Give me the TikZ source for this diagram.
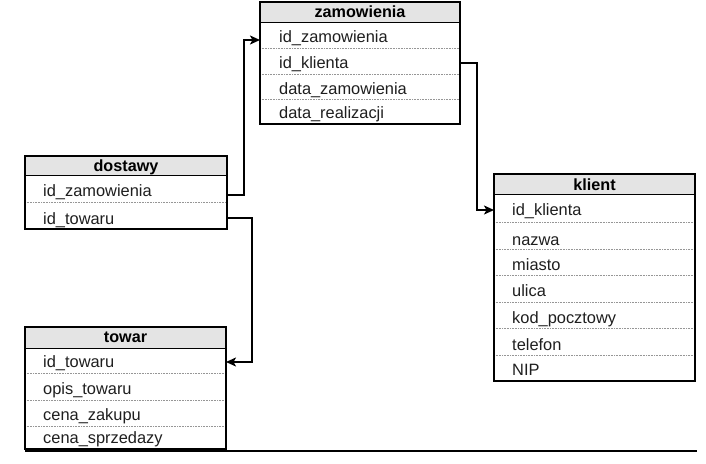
\documentclass[tikz,border=0pt]{standalone}
\usepackage{fontspec}
\setmainfont{Liberation Sans}
\usetikzlibrary{arrows.meta}
\definecolor{hdrgray}{RGB}{228,228,228}
\definecolor{sepgray}{RGB}{150,150,150}
\definecolor{txtgray}{RGB}{30,30,30}
\newcommand{\rowfnt}{\fontsize{16.4}{19}\selectfont}
\newcommand{\hdrfnt}{\fontsize{16.2}{19}\selectfont\bfseries}
\tikzset{
  tblbox/.style={draw=black, line width=1.7pt},
  hdrfill/.style={fill=hdrgray},
  hdrline/.style={draw=black, line width=1pt},
  sepline/.style={draw=sepgray, densely dotted, line width=0.6pt},
  rowtxt/.style={anchor=base west, inner sep=0pt, font=\rowfnt, text=txtgray},
  hdrtxt/.style={anchor=base, inner sep=0pt, font=\hdrfnt},
  conn/.style={line width=1.6pt, -{Stealth[length=10pt,width=9pt,inset=2.5pt]}},
}
\begin{document}
\begin{tikzpicture}[x=1pt,y=-1pt]
\useasboundingbox (0,0) rectangle (706,463);

% ---------------- zamowienia
\fill[hdrfill] (260,2) rectangle (460,22);
\draw[hdrline] (260,22) -- (460,22);
\foreach \s in {48,74,99} \draw[sepline] (260,\s) -- (460,\s);
\draw[tblbox] (260,2) rectangle (460,124);
\node[hdrtxt] (zamH) at (360,17) {zamowienia};
\node[rowtxt] (zam1) at (279,42) {id\_zamowienia};
\node[rowtxt] (zam2) at (279,68) {id\_klienta};
\node[rowtxt] (zam3) at (279,94) {data\_zamowienia};
\node[rowtxt] (zam4) at (279,118) {data\_realizacji};
\coordinate (zamIn) at (260,40);
\coordinate (zamOut) at (460,63);

% ---------------- dostawy
\fill[hdrfill] (25,156) rectangle (227,175);
\draw[hdrline] (25,175) -- (227,175);
\draw[sepline] (25,202) -- (227,202);
\draw[tblbox] (25,156) rectangle (227,229);
\node[hdrtxt] (dosH) at (126,171) {dostawy};
\node[rowtxt] (dos1) at (43,196.5) {id\_zamowienia};
\node[rowtxt] (dos2) at (43,224) {id\_towaru};
\coordinate (dosOutA) at (227,195);
\coordinate (dosOutB) at (227,218);

% ---------------- towar
\fill[hdrfill] (25,327) rectangle (226,348);
\draw[hdrline] (25,348) -- (226,348);
\foreach \s in {373,400,426} \draw[sepline] (25,\s) -- (226,\s);
\node[hdrtxt] (towH) at (125.5,342) {towar};
\node[rowtxt] (tow1) at (43,367) {id\_towaru};
\node[rowtxt] (tow2) at (43,394) {opis\_towaru};
\node[rowtxt] (tow3) at (43,420) {cena\_zakupu};
\begin{scope}
  \clip (25,426) rectangle (226,449);
  \node[rowtxt] (tow4) at (43,443) {cena\_sprzedazy};
\end{scope}
\draw[tblbox] (25,327) rectangle (226,449);
\coordinate (towIn) at (226,362);

% ---------------- klient
\fill[hdrfill] (494,174) rectangle (695,194);
\draw[hdrline] (494,194) -- (695,194);
\foreach \s in {222,249,275,302,328,355} \draw[sepline] (494,\s) -- (695,\s);
\draw[tblbox] (494,174) rectangle (695,381);
\node[hdrtxt] (kliH) at (594.5,190) {klient};
\node[rowtxt] (kli1) at (512,215) {id\_klienta};
\node[rowtxt] (kli2) at (512,245) {nazwa};
\node[rowtxt] (kli3) at (512,270) {miasto};
\node[rowtxt] (kli4) at (512,296.5) {ulica};
\node[rowtxt] (kli5) at (512,323) {kod\_pocztowy};
\node[rowtxt] (kli6) at (512,350) {telefon};
\node[rowtxt] (kli7) at (512,375) {NIP};
\coordinate (kliIn) at (494,210);

% ---------------- connectors
\draw[conn] (dosOutA) -- ++(17,0) |- (zamIn);
\draw[conn] (zamOut) -- ++(17,0) |- (kliIn);
\draw[conn] (dosOutB) -- ++(25,0) |- (towIn);

% ---------------- bottom rule
\draw[line width=1.6pt] (25,451) -- (697,451);
\end{tikzpicture}
\end{document}
